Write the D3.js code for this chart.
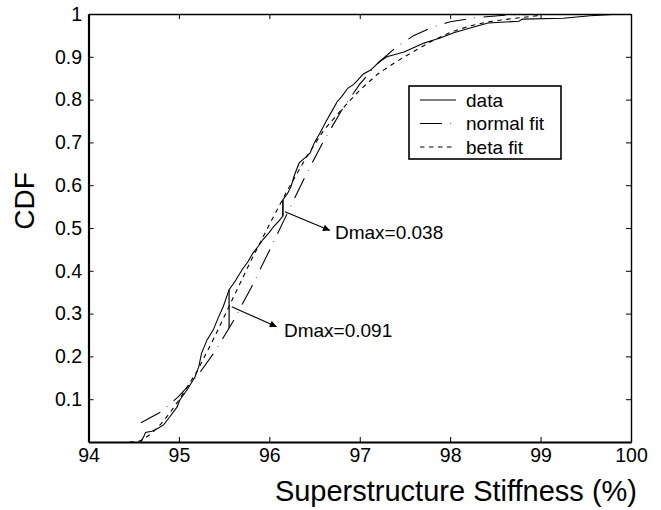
<!DOCTYPE html>
<html>
<head>
<meta charset="utf-8">
<script src="https://cdn.jsdelivr.net/npm/d3@7/dist/d3.min.js"></script>
<style>
  html, body { margin: 0; padding: 0; background: #fff; }
  svg { display: block; }
  text { font-family: "Liberation Sans", Arial, Helvetica, sans-serif; fill: #000; }
</style>
</head>
<body>
<svg id="chart" width="661" height="510"></svg>
<script>
// ---- data ----
const xTicks = [94, 95, 96, 97, 98, 99, 100];
const yTicks = [0.1, 0.2, 0.3, 0.4, 0.5, 0.6, 0.7, 0.8, 0.9, 1];
const yTickLabels = ["0.1", "0.2", "0.3", "0.4", "0.5", "0.6", "0.7", "0.8", "0.9", "1"];

// empirical CDF (solid)
const dataX = [94.58, 94.61, 94.63, 94.70, 94.77, 94.83, 94.90, 94.98, 95.01, 95.10, 95.18, 95.22,
  95.25, 95.31, 95.38, 95.44, 95.49, 95.555, 95.62, 95.70, 95.76, 95.82, 95.88, 95.93, 96.00,
  96.05, 96.10, 96.15, 96.15, 96.20, 96.24, 96.28, 96.33, 96.40, 96.45, 96.50, 96.56, 96.63,
  96.70, 96.75, 96.80, 96.87, 96.93, 96.98, 97.04, 97.12, 97.22, 97.30, 97.38, 97.49, 97.60,
  97.71, 97.80, 97.89, 98.04, 98.20, 98.42, 98.76, 98.80, 99.25, 99.55, 99.90, 100.0];
const dataY = [0.000, 0.012, 0.022, 0.025, 0.032, 0.040, 0.059, 0.082, 0.098, 0.125, 0.153, 0.176,
  0.207, 0.238, 0.262, 0.293, 0.316, 0.356, 0.375, 0.403, 0.420, 0.442, 0.458, 0.473, 0.490,
  0.504, 0.515, 0.528, 0.566, 0.580, 0.597, 0.625, 0.652, 0.665, 0.675, 0.700, 0.722, 0.750,
  0.776, 0.795, 0.807, 0.827, 0.835, 0.846, 0.860, 0.869, 0.889, 0.900, 0.905, 0.911, 0.922,
  0.932, 0.938, 0.944, 0.956, 0.966, 0.979, 0.983, 0.988, 0.990, 0.996, 1.000, 1.000];

// normal fit (dash-dot)
const normalX = [94.58, 94.8, 95.0, 95.2, 95.4, 95.6, 95.8, 96.0, 96.2, 96.4, 96.6, 96.8, 97.0,
  97.2, 97.4, 97.6, 97.8, 98.0, 98.3, 98.6, 99.0];
const normalY = [0.045, 0.070, 0.107, 0.153, 0.212, 0.282, 0.361, 0.447, 0.535, 0.622, 0.703,
  0.775, 0.836, 0.885, 0.922, 0.950, 0.969, 0.982, 0.992, 0.997, 1.000];

// beta fit (short dashes)
const betaX = [94.45, 94.55, 94.6, 94.7, 94.8, 94.9, 95.0, 95.2, 95.4, 95.6, 95.8, 96.0, 96.2,
  96.4, 96.6, 96.8, 97.0, 97.2, 97.4, 97.6, 97.8, 98.0, 98.2, 98.4, 98.6, 98.8, 99.0];
const betaY = [0.000, 0.001, 0.006, 0.020, 0.042, 0.068, 0.098, 0.165, 0.248, 0.337, 0.425, 0.508,
  0.588, 0.662, 0.728, 0.777, 0.822, 0.860, 0.888, 0.913, 0.937, 0.957, 0.971, 0.981, 0.987,
  0.992, 0.997];

const seriesNames = ["data", "normal fit", "beta fit"];

// KS statistic markers
const dmaxX = [95.555, 96.15];
const dmaxLow = [0.265, 0.528];
const dmaxHigh = [0.356, 0.566];
const dmaxLabels = ["Dmax=0.091", "Dmax=0.038"];
const arrowFrom = [[95.584, 0.316], [96.173, 0.538]];
const arrowTo = [[96.081, 0.269], [96.671, 0.494]];
const labelAt = [[96.162, 0.245], [96.726, 0.474]];

// ---- layout ----
const svg = d3.select("#chart");
const L = 88.5, R = 631, T = 14, B = 442;
const x = d3.scaleLinear().domain([94, 100]).range([L, R]);
const y = d3.scaleLinear().domain([0, 1]).range([B, T]);

svg.append("defs").append("clipPath").attr("id", "clip")
  .append("rect").attr("x", L).attr("y", T).attr("width", R - L).attr("height", B - T);
svg.select("defs").append("marker")
  .attr("id", "arrow").attr("viewBox", "0 0 10 10").attr("refX", 10).attr("refY", 5)
  .attr("markerWidth", 9).attr("markerHeight", 7).attr("markerUnits", "userSpaceOnUse")
  .attr("orient", "auto")
  .append("path").attr("d", "M0,0 L10,5 L0,10 Z").attr("fill", "#000");

// axes
const fmtY = (d) => yTickLabels[yTicks.indexOf(d)];
const axB = svg.append("g").attr("transform", `translate(0,${B})`)
  .call(d3.axisBottom(x).tickValues(xTicks).tickSizeInner(-5).tickSizeOuter(0).tickPadding(6.5).tickFormat(d3.format("d")));
const axL = svg.append("g").attr("transform", `translate(${L},0)`)
  .call(d3.axisLeft(y).tickValues(yTicks).tickSizeInner(-5).tickSizeOuter(0).tickPadding(6.5).tickFormat(fmtY));
const axT = svg.append("g").attr("transform", `translate(0,${T})`)
  .call(d3.axisTop(x).tickValues(xTicks).tickSizeInner(-5).tickSizeOuter(0).tickFormat(""));
const axR = svg.append("g").attr("transform", `translate(${R},0)`)
  .call(d3.axisRight(y).tickValues(yTicks).tickSizeInner(-5).tickSizeOuter(0).tickFormat(""));

[axB, axL].forEach(g => {
  g.select(".domain").attr("stroke", "#000").attr("stroke-width", 2.2);
  g.selectAll(".tick line").attr("stroke", "#000").attr("stroke-width", 1);
  g.selectAll(".tick text").style("font-size", "19.5px").attr("fill", "#000")
    .style("font-family", "'Liberation Sans', Arial, sans-serif");
});
[axT, axR].forEach(g => {
  g.select(".domain").attr("stroke", "#000").attr("stroke-width", 1.4);
  g.selectAll(".tick line").attr("stroke", "#000").attr("stroke-width", 1);
});

// axis titles
svg.append("text").attr("x", 637).attr("y", 501).attr("text-anchor", "end")
  .style("font-size", "29px").text("Superstructure Stiffness (%)");
svg.append("text").attr("transform", "translate(34,201) rotate(-90)").attr("text-anchor", "middle")
  .style("font-size", "28px").text("CDF");

// curves
const plot = svg.append("g").attr("clip-path", "url(#clip)");
const line = d3.line().x(d => x(d[0])).y(d => y(d[1]));
const toPts = (xs, ys) => xs.map((v, i) => [v, ys[i]]);

const styles = [
  { dash: null },
  { dash: "22,8.5,0.6,8.5" },
  { dash: "4.5,4.5" }
];
const series = [toPts(dataX, dataY), toPts(normalX, normalY), toPts(betaX, betaY)];
series.forEach((pts, i) => {
  plot.append("path").datum(pts).attr("d", line)
    .attr("fill", "none").attr("stroke", "#000").attr("stroke-width", 1.1)
    .attr("stroke-dasharray", styles[i].dash);
});

// Dmax vertical lines, arrows and labels
dmaxX.forEach((v, i) => {
  svg.append("line").attr("x1", x(v)).attr("x2", x(v))
    .attr("y1", y(dmaxLow[i])).attr("y2", y(dmaxHigh[i]))
    .attr("stroke", "#000").attr("stroke-width", 1.2);
  svg.append("line")
    .attr("x1", x(arrowFrom[i][0])).attr("y1", y(arrowFrom[i][1]))
    .attr("x2", x(arrowTo[i][0])).attr("y2", y(arrowTo[i][1]))
    .attr("stroke", "#000").attr("stroke-width", 1.1).attr("marker-end", "url(#arrow)");
  svg.append("text").attr("x", x(labelAt[i][0])).attr("y", y(labelAt[i][1]))
    .style("font-size", "19px").text(dmaxLabels[i]);
});

// legend
const lg = svg.append("g");
lg.append("rect").attr("x", 409).attr("y", 86).attr("width", 152).attr("height", 73)
  .attr("fill", "#fff").attr("stroke", "#000").attr("stroke-width", 1.6);
const rowY = [100, 123.5, 147];
seriesNames.forEach((name, i) => {
  lg.append("line").attr("x1", 420).attr("x2", 456).attr("y1", rowY[i]).attr("y2", rowY[i])
    .attr("stroke", "#000").attr("stroke-width", 1.1).attr("stroke-dasharray", styles[i].dash);
  lg.append("text").attr("x", 466).attr("y", rowY[i]).attr("dy", "0.35em")
    .style("font-size", "19px").text(name);
});
</script>
</body>
</html>
